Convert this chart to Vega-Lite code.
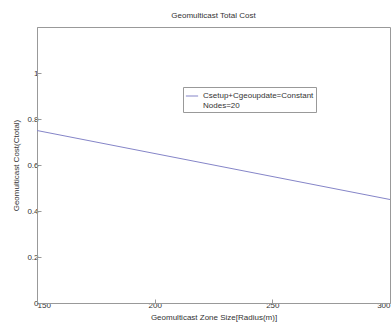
{
  "$schema": "https://vega.github.io/schema/vega-lite/v6.json",
  "autosize": "none",
  "width": 353,
  "height": 276,
  "padding": {"left": 37, "top": 27, "right": 2, "bottom": 24},
  "background": "white",
  "title": {"text": "Geomulticast Total Cost", "font": "Liberation Sans", "fontSize": 8, "fontWeight": "normal", "color": "#333", "offset": 7},
  "config": {
    "view": {"stroke": "#999", "strokeWidth": 1},
    "axis": {"labelFont": "Liberation Sans", "titleFont": "Liberation Sans", "labelFontSize": 8, "titleFontSize": 8, "titleFontWeight": "normal", "labelColor": "#333", "titleColor": "#333", "grid": false, "domainColor": "#999", "tickColor": "#999", "tickSize": -4}
  },
  "data": {"values": [
    {"x": 150, "y": 0.75, "s": "Csetup+Cgeoupdate=Constant|Nodes=20"},
    {"x": 300, "y": 0.45, "s": "Csetup+Cgeoupdate=Constant|Nodes=20"}
  ]},
  "mark": {"type": "line", "strokeWidth": 1},
  "encoding": {
    "x": {"field": "x", "type": "quantitative", "scale": {"domain": [150, 300], "nice": false},
      "axis": {"values": [150, 200, 250, 300], "title": "Geomulticast Zone Size[Radius(m)]", "titlePadding": 4, "labelPadding": 2}},
    "y": {"field": "y", "type": "quantitative", "scale": {"domain": [0, 1.2], "nice": false},
      "axis": {"values": [0, 0.2, 0.4, 0.6, 0.8, 1], "format": "~g", "title": "Geomulticast Cost(Ctotal)", "titlePadding": 6, "labelPadding": 3}},
    "color": {"field": "s", "type": "nominal", "scale": {"range": ["#8585c8"]},
      "legend": {"orient": "none", "legendX": 146, "legendY": 60, "title": null, "symbolType": "stroke", "symbolSize": 150, "symbolStrokeWidth": 1, "labelExpr": "split(datum.label, '|')", "labelFont": "Liberation Sans", "labelFontSize": 8, "labelColor": "#333", "labelLimit": 300, "fillColor": "white", "strokeColor": "#999", "padding": 2, "labelOffset": 4}}
  }
}
